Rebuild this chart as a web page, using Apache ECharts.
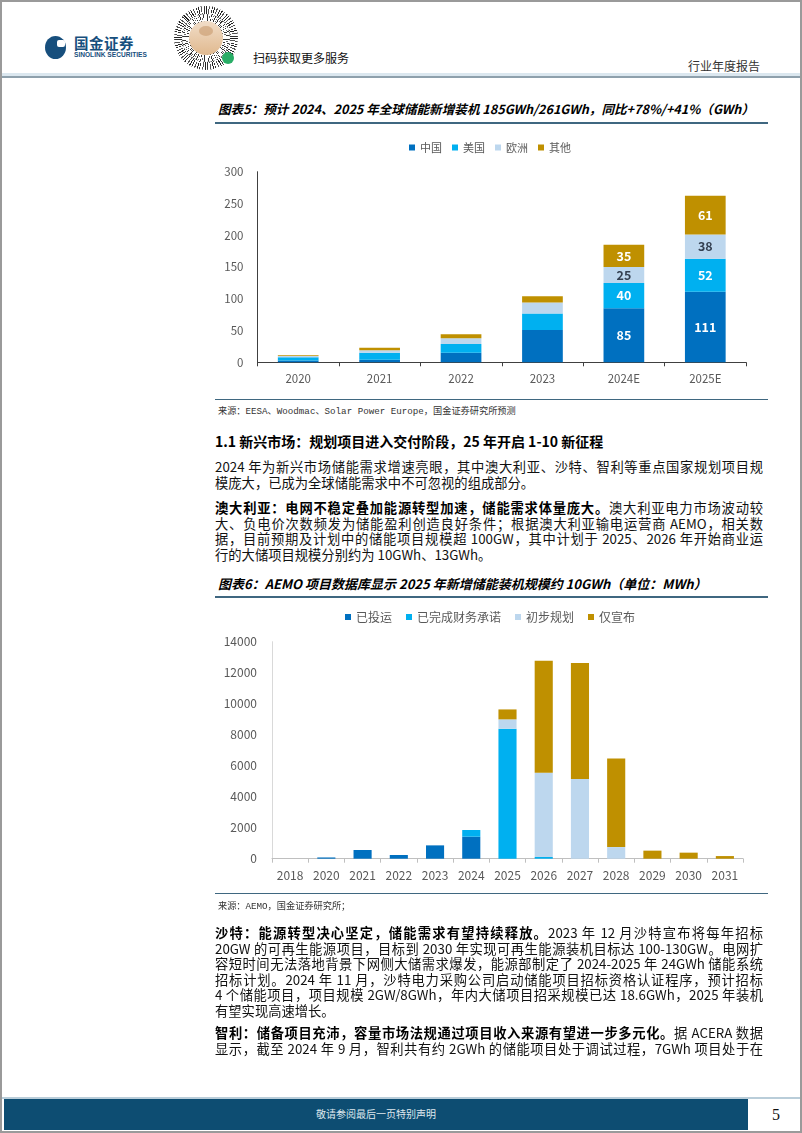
<!DOCTYPE html>
<html><head><meta charset="utf-8">
<script src="https://cdn.jsdelivr.net/npm/echarts@6/dist/echarts.min.js"></script>
<style>
html,body{margin:0;padding:0;background:#fff;}
body{width:802px;height:1133px;position:relative;overflow:hidden;font-family:"Noto Sans CJK SC","Noto Sans",sans-serif;color:#111;}
.abs{position:absolute;}
.ln{position:absolute;left:215px;width:548px;font-size:13.3px;line-height:16px;height:16px;white-space:nowrap;text-align:justify;text-align-last:justify;color:#111;}
.ln.last{text-align-last:left;}
.ln b{font-weight:700;color:#000;}
.title{position:absolute;left:218px;font-weight:700;font-style:italic;line-height:16px;white-space:nowrap;color:#000;}
.rule{position:absolute;left:215px;width:553px;background:#3f6780;}
.src{position:absolute;left:218px;font-size:9.2px;line-height:12px;white-space:nowrap;color:#333;font-family:"Liberation Mono","Noto Sans CJK SC",monospace;}
</style>
</head><body>
<!-- page border -->
<div class="abs" style="left:0;top:0;width:802px;height:2px;background:#9a9a9a"></div>
<div class="abs" style="left:0;top:0;width:2px;height:1133px;background:#9a9a9a"></div>
<div class="abs" style="left:800px;top:0;width:2px;height:1133px;background:#9a9a9a"></div>
<div class="abs" style="left:0;top:1131px;width:802px;height:2px;background:#9a9a9a"></div>

<!-- header -->
<div class="abs" style="left:45px;top:36px;width:21px;height:23px;border-radius:50%;background:#174f7d"></div>
<div class="abs" style="left:57px;top:40px;width:8px;height:7px;background:#fff;border-radius:2px"></div>
<div class="abs" style="left:74px;top:34px;font-size:14.5px;font-weight:700;color:#174f7d;letter-spacing:0.5px;line-height:18px">国金证券</div>
<div class="abs" style="left:74px;top:51px;font-size:6.6px;font-weight:700;color:#174f7d;line-height:8px;font-family:'Liberation Sans','Noto Sans',sans-serif;white-space:nowrap">SINOLINK SECURITIES</div>

<div class="abs" style="left:174px;top:6px;width:64px;height:64px;border-radius:50%;background:repeating-conic-gradient(#222 0deg 2deg,#fff 2deg 5deg,#555 5deg 7deg,#fff 7deg 11deg,#333 11deg 12.5deg,#fff 12.5deg 15deg)"></div>
<div class="abs" style="left:182px;top:14px;width:48px;height:48px;border-radius:50%;background:repeating-conic-gradient(#fff 0deg 3deg,#333 3deg 5deg,#fff 5deg 9deg,#666 9deg 10deg)"></div>
<div class="abs" style="left:189px;top:21px;width:34px;height:34px;border-radius:50%;background:linear-gradient(#f1ddc8,#e0b98f)"></div>
<div class="abs" style="left:199px;top:26px;width:14px;height:10px;border-radius:50%;background:#c89a6c;opacity:.6"></div>
<div class="abs" style="left:222px;top:52px;width:12px;height:12px;border-radius:50%;background:#2aae67"></div>

<div class="abs" style="left:253px;top:49px;font-size:12px;line-height:18px;color:#111">扫码获取更多服务</div>
<div class="abs" style="left:688px;top:57px;font-size:12px;line-height:18px;color:#333">行业年度报告</div>
<div class="abs" style="left:2px;top:73px;width:798px;height:3px;background:#dbe7ef"></div>
<div class="abs" style="left:2px;top:76px;width:798px;height:1.5px;background:#8ea0ac"></div>

<!-- chart 5 -->
<div class="title" style="top:101px;font-size:12.6px">图表5：预计 2024、2025 年全球储能新增装机 185GWh/261GWh，同比+78%/+41%（GWh）</div>
<div class="rule" style="top:121.5px;height:2px"></div>
<div id="c1" class="abs" style="left:200px;top:130px;width:580px;height:270px"></div>
<div class="rule" style="top:398.5px;height:1.5px"></div>
<div class="src" style="top:405.7px">来源：EESA、Woodmac、Solar Power Europe，国金证券研究所预测</div>

<!-- text block 1 -->
<div class="abs" style="left:215px;top:433px;font-size:14px;font-weight:700;line-height:17px;white-space:nowrap;color:#000">1.1 新兴市场：规划项目进入交付阶段，25 年开启 1-10 新征程</div>
<div class="ln" style="top:459px">2024 年为新兴市场储能需求增速亮眼，其中澳大利亚、沙特、智利等重点国家规划项目规</div>
<div class="ln last" style="top:475px">模庞大，已成为全球储能需求中不可忽视的组成部分。</div>
<div class="ln" style="top:500px"><b>澳大利亚：电网不稳定叠加能源转型加速，储能需求体量庞大。</b>澳大利亚电力市场波动较</div>
<div class="ln" style="top:515.5px">大、负电价次数频发为储能盈利创造良好条件；根据澳大利亚输电运营商 AEMO，相关数</div>
<div class="ln" style="top:531.3px">据，目前预期及计划中的储能项目规模超 100GW，其中计划于 2025、2026 年开始商业运</div>
<div class="ln last" style="top:547px">行的大储项目规模分别约为 10GWh、13GWh。</div>

<!-- chart 6 -->
<div class="title" style="top:576px;font-size:13px">图表6：AEMO 项目数据库显示 2025 年新增储能装机规模约 10GWh（单位：MWh）</div>
<div class="rule" style="top:596px;height:2px"></div>
<div id="c2" class="abs" style="left:200px;top:600px;width:580px;height:295px"></div>
<div class="rule" style="top:892.5px;height:1.5px"></div>
<div class="src" style="top:900.7px">来源：AEMO，国金证券研究所；</div>

<!-- text block 2 -->
<div class="ln" style="top:925px"><b>沙特：能源转型决心坚定，储能需求有望持续释放。</b>2023 年 12 月沙特宣布将每年招标</div>
<div class="ln" style="top:940.5px">20GW 的可再生能源项目，目标到 2030 年实现可再生能源装机目标达 100-130GW。电网扩</div>
<div class="ln" style="top:956px">容短时间无法落地背景下网侧大储需求爆发，能源部制定了 2024-2025 年 24GWh 储能系统</div>
<div class="ln" style="top:971.5px">招标计划。2024 年 11 月，沙特电力采购公司启动储能项目招标资格认证程序，预计招标</div>
<div class="ln" style="top:987px">4 个储能项目，项目规模 2GW/8GWh，年内大储项目招采规模已达 18.6GWh，2025 年装机</div>
<div class="ln last" style="top:1002.5px">有望实现高速增长。</div>
<div class="ln" style="top:1025px"><b>智利：储备项目充沛，容量市场法规通过项目收入来源有望进一步多元化。</b>据 ACERA 数据</div>
<div class="ln" style="top:1041px">显示，截至 2024 年 9 月，智利共有约 2GWh 的储能项目处于调试过程，7GWh 项目处于在</div>

<!-- footer -->
<div class="abs" style="left:2px;top:1097px;width:798px;height:1.5px;background:#b9cdd9"></div>
<div class="abs" style="left:4px;top:1099px;width:744px;height:31px;background:#0d4d72"></div>
<div class="abs" style="left:4px;top:1106px;width:744px;text-align:center;font-size:10px;line-height:16px;color:#dfe8ee">敬请参阅最后一页特别声明</div>
<div class="abs" style="left:772px;top:1105px;font-size:16px;line-height:20px;color:#111;font-family:'Liberation Serif',serif">5</div>

<script>
// ---- Chart 5 data (GWh) ----
const years1 = ['2020', '2021', '2022', '2023', '2024E', '2025E'];
const china = [3, 4, 15, 51, 85, 111];
const usa = [5, 11, 14, 26, 40, 52];
const europe = [2, 4, 9, 17, 25, 38];
const others = [1, 4, 6, 10, 35, 61];
const names1 = ['中国', '美国', '欧洲', '其他'];
const ticks1 = [0, 50, 100, 150, 200, 250, 300];

// ---- Chart 6 data (MWh) ----
const years2 = ['2018', '2020', '2021', '2022', '2023', '2024', '2025', '2026', '2027', '2028', '2029', '2030', '2031'];
const operating = [0, 80, 560, 240, 860, 1420, 0, 0, 0, 0, 0, 0, 0];
const committed = [0, 0, 0, 0, 0, 430, 8390, 110, 0, 0, 0, 0, 0];
const planned = [0, 0, 0, 0, 0, 0, 600, 5440, 5140, 750, 0, 0, 0];
const announced = [0, 0, 0, 0, 0, 0, 640, 7220, 7480, 5720, 520, 390, 170];
const names2 = ['已投运', '已完成财务承诺', '初步规划', '仅宣布'];
const ticks2 = [0, 2000, 4000, 6000, 8000, 10000, 12000, 14000];

const colors = ['#0070c0', '#00b0f0', '#bdd7ee', '#bf9000'];
const FONT = '"Noto Sans CJK SC","Noto Sans",sans-serif';

const c1 = echarts.init(document.getElementById('c1'));
const labelColors1 = ['#fff', '#fff', '#333f50', '#fff'];
const vals1 = [china, usa, europe, others];
c1.setOption({
  animation: false,
  textStyle: { fontFamily: FONT },
  legend: {
    top: 7, left: 'center', itemWidth: 6, itemHeight: 6, itemGap: 10,
    icon: 'rect',
    textStyle: { fontSize: 11, color: '#595959', fontFamily: FONT },
    data: names1
  },
  grid: { left: 57.5, right: 34, top: 41.7, bottom: 37.7 },
  xAxis: {
    type: 'category', data: years1,
    axisLine: { lineStyle: { color: '#404040', width: 1 } },
    axisTick: { show: true, length: 4, lineStyle: { color: '#404040' } },
    axisLabel: { color: '#595959', fontSize: 11.5, margin: 11, fontFamily: FONT }
  },
  yAxis: {
    type: 'value', min: ticks1[0], max: ticks1[ticks1.length - 1], interval: 50,
    splitLine: { show: false },
    axisLine: { show: true, lineStyle: { color: '#404040', width: 1 } },
    axisTick: { show: false },
    axisLabel: { color: '#595959', fontSize: 11.5, margin: 14, fontFamily: FONT }
  },
  series: names1.map((n, i) => ({
    name: n, type: 'bar', stack: 'a', barWidth: '50%',
    data: vals1[i],
    itemStyle: { color: colors[i] },
    label: {
      show: true, position: 'inside', color: labelColors1[i],
      fontSize: 12.5, fontWeight: 'bold', fontFamily: FONT,
      formatter: p => (p.dataIndex >= 4 ? p.value : '')
    }
  }))
});

const c2 = echarts.init(document.getElementById('c2'));
const vals2 = [operating, committed, planned, announced];
c2.setOption({
  animation: false,
  textStyle: { fontFamily: FONT },
  legend: {
    top: 6, left: 'center', itemWidth: 6, itemHeight: 6, itemGap: 14,
    icon: 'rect',
    textStyle: { fontSize: 12, color: '#595959', fontFamily: FONT },
    data: names2
  },
  grid: { left: 72, right: 37, top: 41.7, bottom: 36.3 },
  xAxis: {
    type: 'category', data: years2,
    axisLine: { lineStyle: { color: '#bfbfbf', width: 1 } },
    axisTick: { show: true, length: 4, lineStyle: { color: '#bfbfbf' } },
    axisLabel: { color: '#595959', fontSize: 12, margin: 11, fontFamily: FONT }
  },
  yAxis: {
    type: 'value', min: ticks2[0], max: ticks2[ticks2.length - 1], interval: 2000,
    splitLine: { show: false },
    axisLine: { show: true, lineStyle: { color: '#d9d9d9', width: 1 } },
    axisTick: { show: false },
    axisLabel: { color: '#595959', fontSize: 12, margin: 15, fontFamily: FONT, formatter: v => String(v) }
  },
  series: names2.map((n, i) => ({
    name: n, type: 'bar', stack: 'b', barWidth: '50%',
    data: vals2[i],
    itemStyle: { color: colors[i] }
  }))
});
</script>
</body></html>
